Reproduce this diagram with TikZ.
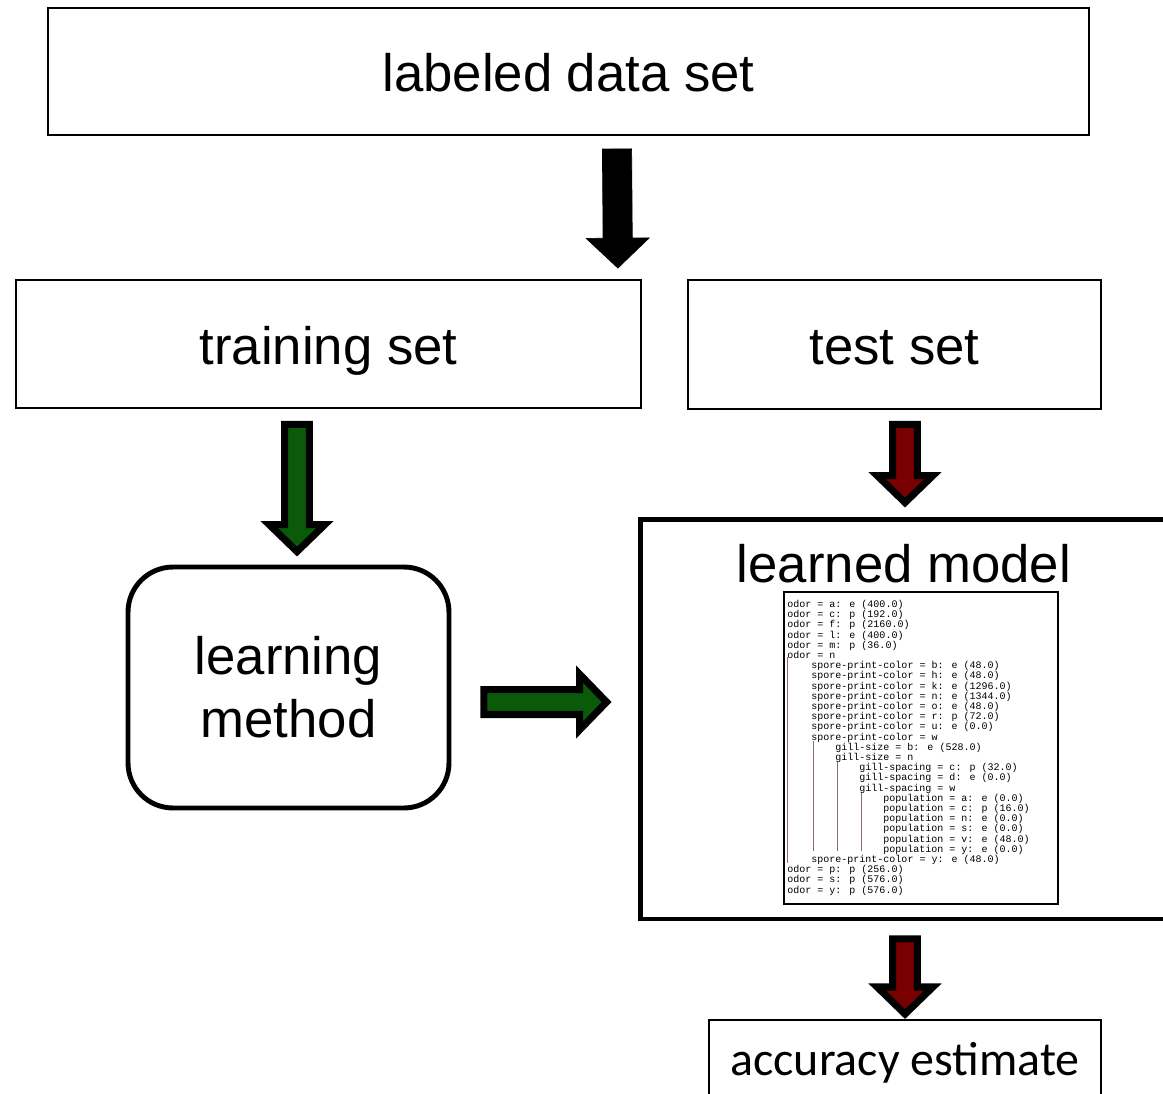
\documentclass[tikz,border=0pt]{standalone}
\usepackage{fontspec}
\setmainfont{Liberation Sans}
\newfontfamily\accfont{Carlito}
\newfontfamily\treefont{Liberation Mono}
\usetikzlibrary{calc}

\definecolor{arrowgreen}{RGB}{10,90,10}
\definecolor{arrowred}{RGB}{120,0,0}
\definecolor{treebarcol}{RGB}{140,110,110}

\newcommand\labelsize{\fontsize{30}{35.8}\selectfont}

% block arrow drawn between two points: shaft half width, head half width, head length
\tikzset{
  fat/.style n args={3}{to path={let \p1=(\tikztostart), \p2=(\tikztotarget),
      \n1={atan2(\y2-\y1,\x2-\x1)}, \n2={veclen(\x2-\x1,\y2-\y1)} in
      [shift={(\p1)}, rotate=\n1]
      (0pt,-#1) -- (\n2*1pt-#3,-#1) -- (\n2*1pt-#3,-#2) -- (\n2*1pt,0pt)
      -- (\n2*1pt-#3,#2) -- (\n2*1pt-#3,#1) -- (0pt,#1) -- cycle}},
}

\begin{document}
\begin{tikzpicture}[x=0.02cm, y=-0.02cm,
  box/.style={draw, line width=1.1pt, inner sep=0pt, font=\labelsize,
    text height=22.9pt, text depth=0pt},
  heavybox/.style={draw, line width=2.8pt, inner sep=0pt},
  blackarrow/.style={fat={8.3pt}{17.9pt}{17pt}, fill=black},
  outlinedarrow/.style={fat={7.1pt}{15.9pt}{15.4pt}, draw=black, line width=4pt,
    miter limit=10, fill=#1},
  treeline/.style={anchor=base west, inner sep=0pt, text=black,
    font=\treefont\fontsize{5.7}{6}\selectfont},
  treebar/.style={draw=treebarcol, line width=0.5pt}]

\useasboundingbox (0,0) rectangle (1163,1093);

% boxes
\node[box, minimum width=20.82cm, minimum height=2.54cm] (data) at (568.5,71.5) {labeled data set};
\node[box, minimum width=12.5cm, minimum height=2.56cm] (train) at (328.5,344) {training set};
\node[box, minimum width=8.26cm, minimum height=2.58cm] (test) at (894.5,344.5) {test set};
\node[heavybox, rounded corners=0.9cm, minimum width=6.42cm, minimum height=4.82cm,
  align=center, font=\labelsize] (method) at (288.5,687.5) {learning\\method};
\node[heavybox, minimum width=12cm, minimum height=8cm] (model) at (940,719) {};
\node[font=\labelsize, anchor=base, inner sep=0pt] (mtitle) at (904,582) {learned model};
\node[draw, line width=0.7pt, minimum width=5.48cm, minimum height=6.24cm] (tree) at (921,748) {};
\node[box, minimum width=7.84cm, minimum height=1.6cm, font=\accfont\fontsize{27.3}{30}\selectfont,
  text height=17.5pt] (acc) at (905,1060) {accuracy estimate};

% the tree
\foreach \lv/\txt [count=\i from 0] in {
  0/odor = a: e (400.0), 0/odor = c: p (192.0), 0/odor = f: p (2160.0),
  0/odor = l: e (400.0), 0/odor = m: p (36.0), 0/odor = n,
  1/spore-print-color = b: e (48.0), 1/spore-print-color = h: e (48.0),
  1/spore-print-color = k: e (1296.0), 1/spore-print-color = n: e (1344.0),
  1/spore-print-color = o: e (48.0), 1/spore-print-color = r: p (72.0),
  1/spore-print-color = u: e (0.0), 1/spore-print-color = w,
  2/gill-size = b: e (528.0), 2/gill-size = n,
  3/gill-spacing = c: p (32.0), 3/gill-spacing = d: e (0.0), 3/gill-spacing = w,
  4/population = a: e (0.0), 4/population = c: p (16.0), 4/population = n: e (0.0),
  4/population = s: e (0.0), 4/population = v: e (48.0), 4/population = y: e (0.0),
  1/spore-print-color = y: e (48.0),
  0/odor = p: p (256.0), 0/odor = s: p (576.0), 0/odor = y: p (576.0)}
  \node[treeline] (tl\i) at (787+24*\lv, 607.5+10.2*\i) {\txt};

\draw[treebar] (787.5,657) -- (787.5,863);
\draw[treebar] (813,741) -- (813,851);
\draw[treebar] (837,762) -- (837,851);
\draw[treebar] (861.5,793) -- (861.5,851);

% arrows
\draw[blackarrow] ([shift={(48.5,13)}]data.south) to ([shift={(-24,-11)}]train.north east);
\draw[outlinedarrow=arrowgreen] ([shift={(-31.5,15.5)}]train.south) to ([shift={(8.5,-13)}]method.north);
\draw[outlinedarrow=arrowgreen] ([shift={(32.5,14.5)}]method.east) to ([shift={(-31,-17)}]model.west);
\draw[outlinedarrow=arrowred] ([shift={(10.5,14.5)}]test.south) to ([shift={(-35,-14)}]model.north);
\draw[outlinedarrow=arrowred] ([shift={(-35,17.5)}]model.south) to ([shift={(0,-5)}]acc.north);

\end{tikzpicture}
\end{document}
